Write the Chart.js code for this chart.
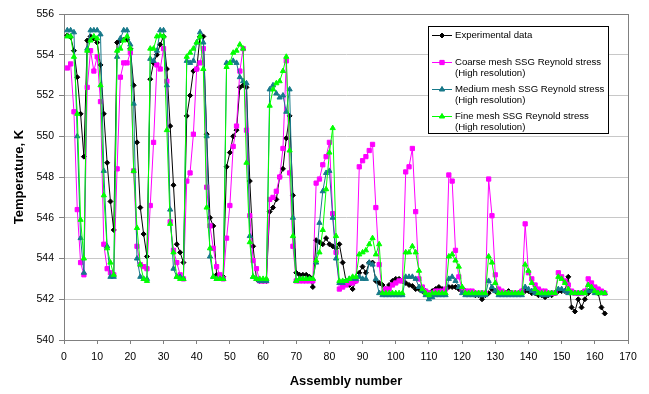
<!DOCTYPE html>
<html>
<head>
<meta charset="utf-8">
<title>Temperature vs assembly number</title>
<script src="https://cdn.jsdelivr.net/npm/chart.js@4.4.0/dist/chart.umd.min.js"></script>
<style>
    body { margin: 0; background: #fff; }
    canvas { display: block; }
</style>
</head>
<body>
<canvas id="myChart" width="649" height="394"></canvas>
<script>
// Temperatures (K) per assembly, assemblies 1..163
const experimental = [
    554.95, 554.87, 554.2, 552.9, 551.1, 549.0, 554.7, 554.9, 554.8, 554.6,
    553.5, 551.1, 548.7, 546.8, 545.4, 554.6, 554.7, 554.75, 554.75, 554.3,
    552.5, 549.7, 546.5, 545.2, 544.1, 552.8, 553.6, 554.0, 554.5, 554.9,
    553.3, 550.5, 547.6, 544.7, 544.3, 543.8, 551.0, 552.0, 553.2, 553.3,
    554.9, 554.9, 550.1, 546.0, 545.6, 543.2, 543.15, 543.1, 548.5, 549.2,
    550.0, 550.3, 552.4, 552.5, 552.4, 547.8, 544.6, 543.0, 542.9, 542.9,
    542.9, 546.3, 546.5, 546.9, 548.0, 548.4, 549.9, 551.0, 547.1, 543.3,
    543.2, 543.2, 543.2, 543.1, 542.6, 544.9, 544.8, 544.7, 545.0, 544.7,
    544.6, 544.5, 544.7, 543.8, 542.9, 542.7, 542.5, 542.9, 543.3, 543.6,
    543.3, 543.8, 543.8, 542.9, 542.8, 542.7, 542.5, 542.7, 542.9, 543.0,
    543.0, 542.9, 542.8, 542.7, 542.65, 542.5, 542.5, 542.4, 542.4, 542.3,
    542.4, 542.5, 542.6, 542.5, 542.5, 542.6, 542.6, 542.6, 542.5, 542.4,
    542.4, 542.3, 542.3, 542.2, 542.2, 542.0, 542.2, 542.3, 542.5, 542.4,
    542.3, 542.3, 542.3, 542.4, 542.3, 542.3, 542.3, 542.4, 542.4, 542.4,
    542.3, 542.3, 542.2, 542.2, 542.1, 542.2, 542.2, 542.3, 542.4, 542.4,
    542.4, 543.1, 541.6, 541.4, 542.0, 541.6, 542.0, 542.3, 542.5, 542.4,
    542.3, 541.6, 541.3
];

const coarse = [
    553.35, 553.55, 551.2, 546.4, 543.8, 543.2, 552.4, 554.2, 553.2, 553.9,
    551.7, 544.7, 543.5, 543.3, 543.2, 548.4, 552.9, 553.6, 553.6, 554.1,
    548.3, 544.6, 543.7, 543.6, 543.5, 546.6, 549.7, 553.5, 553.3, 554.3,
    552.7, 545.8, 544.4, 543.8, 543.2, 543.0, 547.8, 548.2, 550.1, 553.3,
    553.6, 554.3, 547.5, 545.6, 544.5, 543.6, 543.2, 543.0, 545.0, 546.6,
    549.5, 550.5, 553.2, 554.3, 550.3, 546.1, 543.9, 543.5, 542.9, 542.9,
    542.9, 546.9, 547.0, 547.3, 548.0, 549.4, 553.7, 548.2, 544.6, 542.9,
    542.9, 542.9, 542.9, 542.9, 542.9, 547.7, 547.9, 548.6, 549.0, 549.7,
    546.2, 544.3, 542.5, 542.6, 542.7, 542.8, 542.8, 542.9, 548.5, 548.8,
    549.0, 549.3, 549.6, 546.5, 543.7, 542.3, 542.5, 542.5, 542.7, 542.8,
    542.9, 542.9, 548.25, 548.5, 549.4, 546.3, 543.0, 542.6, 542.4, 542.3,
    542.3, 542.4, 542.4, 542.4, 542.5, 548.1, 547.8, 544.4, 543.1, 542.5,
    542.4, 542.4, 542.4, 542.3, 542.3, 542.3, 542.3, 547.9, 546.1, 543.2,
    542.5, 542.4, 542.3, 542.3, 542.3, 542.3, 542.3, 542.4, 545.7, 543.3,
    543.0, 542.7, 542.5, 542.4, 542.4, 542.3, 542.3, 542.3, 543.3, 543.1,
    542.9, 542.7, 542.4, 542.3, 542.3, 542.3, 542.4, 543.0, 542.8, 542.6,
    542.5, 542.4, 542.3
];

const medium = [
    555.2, 555.2, 555.1, 550.0, 545.0, 543.3, 554.3, 555.2, 555.2, 555.2,
    555.0, 548.3, 544.6, 543.1, 543.1, 553.9, 554.8, 555.2, 555.2, 554.5,
    551.6, 544.0, 543.1, 543.0, 543.0, 553.8, 553.7, 554.2, 555.2, 555.2,
    552.5, 546.4, 543.5, 543.1, 543.1, 543.0, 553.7, 553.6, 553.7, 554.6,
    555.1, 554.6, 550.0, 544.1, 543.1, 543.0, 543.0, 543.0, 553.6, 553.6,
    553.7, 553.6, 552.9, 552.7, 552.6, 545.1, 543.1, 543.0, 542.9, 542.9,
    542.9, 552.3, 552.5, 552.1, 551.9, 552.0, 551.2, 552.3, 546.0, 542.9,
    543.0, 543.0, 543.0, 543.0, 543.0, 543.8, 545.75, 547.3, 548.2, 548.3,
    546.0, 544.0, 542.8, 542.8, 542.9, 543.0, 543.0, 543.0, 543.1, 543.0,
    543.0, 543.8, 543.7, 543.0, 542.3, 542.2, 542.2, 542.2, 542.2, 542.2,
    542.2, 542.2, 543.1, 543.1, 543.1, 543.0, 542.6, 542.4, 542.2, 542.0,
    542.1, 542.2, 542.2, 542.2, 542.2, 543.0, 543.1, 542.9, 542.6, 542.3,
    542.2, 542.2, 542.2, 542.2, 542.2, 542.2, 542.2, 542.9, 542.6, 542.4,
    542.2, 542.2, 542.2, 542.2, 542.2, 542.2, 542.2, 542.2, 542.6, 542.5,
    542.4, 542.3, 542.3, 542.2, 542.2, 542.2, 542.3, 542.3, 542.5, 542.5,
    542.4, 542.3, 542.3, 542.3, 542.3, 542.3, 542.3, 542.4, 542.4, 542.3,
    542.3, 542.3, 542.3
];

const fine = [
    554.9, 554.9, 553.9, 551.1, 545.9, 544.0, 554.2, 554.7, 554.9, 554.8,
    552.5, 547.1, 544.5, 543.8, 543.2, 554.2, 554.3, 554.7, 554.9, 554.3,
    548.3, 545.5, 543.7, 543.0, 542.9, 554.3, 554.3, 554.9, 554.95, 554.9,
    550.3, 545.7, 544.3, 543.1, 543.0, 543.0, 553.9, 554.1, 554.3, 554.6,
    554.9, 553.3, 546.5, 544.5, 543.1, 543.0, 543.0, 543.0, 553.4, 553.6,
    554.1, 554.2, 554.5, 554.3, 548.7, 544.8, 543.1, 543.0, 543.0, 543.0,
    543.0, 551.5, 552.3, 552.6, 552.7, 553.2, 553.9, 549.3, 545.1, 542.9,
    543.0, 543.0, 543.0, 543.0, 543.0, 543.9, 544.3, 545.4, 547.4, 549.2,
    550.4, 545.1, 542.9, 542.9, 542.9, 543.0, 543.1, 543.1, 544.2, 544.3,
    544.4, 544.7, 545.0, 544.2, 544.7, 542.3, 542.3, 542.3, 542.3, 542.3,
    542.3, 542.3, 544.3, 544.3, 544.6, 544.3, 543.4, 542.5, 542.3, 542.2,
    542.3, 542.3, 542.3, 542.3, 542.3, 544.1, 544.2, 543.9, 543.6, 542.6,
    542.3, 542.3, 542.3, 542.3, 542.3, 542.3, 542.3, 544.1, 543.8, 542.8,
    542.3, 542.3, 542.3, 542.3, 542.3, 542.3, 542.3, 542.3, 543.7, 543.4,
    542.8, 542.5, 542.3, 542.3, 542.3, 542.3, 542.3, 542.3, 543.1, 543.0,
    542.8, 542.5, 542.3, 542.3, 542.3, 542.3, 542.3, 542.7, 542.6, 542.4,
    542.3, 542.3, 542.3
];

const xTicks = [0, 10, 20, 30, 40, 50, 60, 70, 80, 90, 100, 110, 120, 130, 140, 150, 160, 170];
const yTicks = [540, 542, 544, 546, 548, 550, 552, 554, 556];

const seriesNames = ['Experimental data', 'Coarse mesh SSG Reynold stress', 'Medium mesh SSG Reynold stress', 'Fine mesh SSG Reynold stress'];
const seriesColors = ['#000000', '#ff00ff', '#17798a', '#00ff00'];
const seriesMarkers = ['rectRot', 'rect', 'triangle', 'triangle'];

const FONT = '"Liberation Sans", Arial, sans-serif';

// assembly number is just the position in the list (1-based)
function toPoints(values) {
    return values.map((v, i) => ({ x: i + 1, y: v }));
}

// Draws the boxed legend in the upper right (two-line labels)
const boxLegend = {
    id: 'boxLegend',
    afterDraw(chart) {
        const ctx = chart.ctx;
        const entries = [
            { lines: [seriesNames[0]], y: 35 },
            { lines: [seriesNames[1], '(High resolution)'], y: 62 },
            { lines: [seriesNames[2], '(High resolution)'], y: 89 },
            { lines: [seriesNames[3], '(High resolution)'], y: 116 }
        ];
        ctx.save();
        ctx.fillStyle = '#ffffff';
        ctx.fillRect(428.5, 26.5, 180, 107);
        ctx.strokeStyle = '#000000';
        ctx.lineWidth = 1;
        ctx.strokeRect(428.5, 26.5, 180, 107);

        ctx.font = '9.6px ' + FONT;
        ctx.textBaseline = 'middle';
        ctx.textAlign = 'left';
        entries.forEach((e, i) => {
            ctx.strokeStyle = seriesColors[i];
            ctx.beginPath();
            ctx.moveTo(432, e.y + 0.5);
            ctx.lineTo(452, e.y + 0.5);
            ctx.stroke();
            Chart.helpers.drawPoint(ctx, {
                pointStyle: seriesMarkers[i],
                radius: i === 0 ? 2.5 : 3,
                borderWidth: 1
            }, 442, e.y + 0.5);
            ctx.fillStyle = seriesColors[i];
            ctx.fill();
            ctx.fillStyle = '#000000';
            e.lines.forEach((t, j) => ctx.fillText(t, 455, e.y + j * 11));
        });
        ctx.restore();
    }
};

// Gray frame around the plot area
const plotFrame = {
    id: 'plotFrame',
    beforeDatasetsDraw(chart) {
        const { ctx, chartArea: a } = chart;
        ctx.save();
        ctx.strokeStyle = '#808080';
        ctx.lineWidth = 1;
        ctx.strokeRect(Math.round(a.left) + 0.5, Math.round(a.top) + 0.5,
            Math.round(a.right - a.left), Math.round(a.bottom - a.top));
        ctx.restore();
    }
};

const datasets = [experimental, coarse, medium, fine].map((vals, i) => ({
    label: seriesNames[i],
    data: toPoints(vals),
    borderColor: seriesColors[i],
    backgroundColor: seriesColors[i],
    borderWidth: 1,
    pointStyle: seriesMarkers[i],
    pointRadius: i === 0 ? 2.5 : 3,
    pointBorderWidth: 1,
    tension: 0,
    order: 3 - i  // later series drawn on top, like the original
}));

new Chart(document.getElementById('myChart').getContext('2d'), {
    type: 'line',
    data: { datasets: datasets },
    options: {
        responsive: false,
        animation: false,
        events: [],
        layout: { padding: { left: 8, right: 21, top: 14, bottom: 5 } },
        plugins: {
            legend: { display: false },
            tooltip: { enabled: false }
        },
        scales: {
            x: {
                type: 'linear',
                min: xTicks[0],
                max: xTicks[xTicks.length - 1],
                afterBuildTicks: s => { s.ticks = xTicks.map(v => ({ value: v })); },
                afterFit: s => { s.height = 49; },
                ticks: { color: '#000', font: { family: FONT, size: 10.5 }, padding: 7, maxRotation: 0 },
                grid: { drawOnChartArea: false, tickLength: 4, tickColor: '#808080' },
                border: { color: '#808080' },
                title: {
                    display: true,
                    text: 'Assembly number',
                    color: '#000',
                    font: { family: FONT, size: 13, weight: 'bold' },
                    padding: { top: 0, bottom: 0 }
                }
            },
            y: {
                min: yTicks[0],
                max: yTicks[yTicks.length - 1],
                afterBuildTicks: s => { s.ticks = yTicks.map(v => ({ value: v })); },
                afterFit: s => { s.width = 56; },
                ticks: { color: '#000', font: { family: FONT, size: 10.5 }, padding: 5 },
                grid: { color: '#c8c8c8', tickLength: 5, tickColor: '#808080' },
                border: { color: '#808080' },
                title: {
                    display: true,
                    text: 'Temperature, K',
                    color: '#000',
                    font: { family: FONT, size: 13, weight: 'bold' },
                    padding: { top: 4, bottom: 4 }
                }
            }
        }
    },
    plugins: [plotFrame, boxLegend]
});
</script>
</body>
</html>
